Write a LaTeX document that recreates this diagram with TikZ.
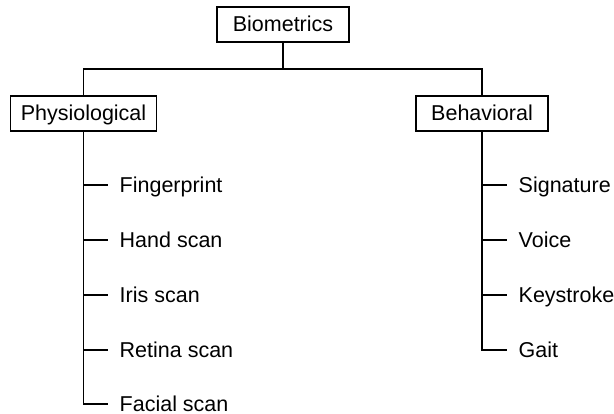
\documentclass[tikz,border=0pt]{standalone}
\usepackage{fontspec}
\setmainfont{Liberation Sans}
\tikzset{
  catbox/.style={draw, minimum width=132pt, minimum height=35pt, inner xsep=10pt, text height=15pt, text depth=0pt},
  leaf/.style={anchor=west, inner xsep=11pt, inner ysep=0pt, text height=15pt, text depth=0pt}
}
\begin{document}
\begin{tikzpicture}[x=1pt,y=-1pt,line width=1.4pt,font=\fontsize{21.5}{26}\selectfont]
\useasboundingbox (0,0) rectangle (614,414);
\node[catbox] (bio) at (283,24.5) {Biometrics};
\node[catbox] (phys) at (83.5,113.5) {Physiological};
\node[catbox] (beh) at (482,113.5) {Behavioral};
\node[leaf] (finger) at (108,185) {Fingerprint};
\node[leaf] (hand) at (108,240) {Hand scan};
\node[leaf] (iris) at (108,295) {Iris scan};
\node[leaf] (retina) at (108,350) {Retina scan};
\node[leaf] (facial) at (108,404) {Facial scan};
\node[leaf] (sign) at (507,185) {Signature};
\node[leaf] (voice) at (507,240) {Voice};
\node[leaf] (keys) at (507,295) {Keystroke};
\node[leaf] (gait) at (507,350) {Gait};
\coordinate (bus) at (283,69);
\draw (bio.south) -- (bus);
\draw (phys.north) |- (bus) -| (beh.north);
\draw (phys.south) |- (finger.west);
\draw (phys.south) |- (hand.west);
\draw (phys.south) |- (iris.west);
\draw (phys.south) |- (retina.west);
\draw (phys.south) |- (facial.west);
\draw (beh.south) |- (sign.west);
\draw (beh.south) |- (voice.west);
\draw (beh.south) |- (keys.west);
\draw (beh.south) |- (gait.west);
\end{tikzpicture}
\end{document}
